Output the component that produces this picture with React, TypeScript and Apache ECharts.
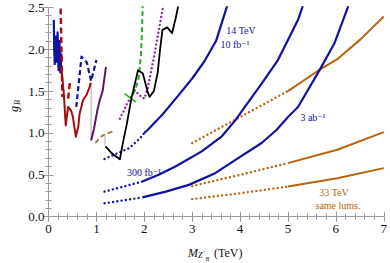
import React, { useEffect, useRef } from 'react';
import * as echarts from 'echarts';

// ---- data (TeV, g_B) ----
const xTickValues = [0, 1, 2, 3, 4, 5, 6, 7];
const yTickValues = [0, 0.5, 1.0, 1.5, 2.0, 2.5];

// 14 TeV projections
const b10Dotted = [[1.17, 0.69], [1.45, 0.76], [1.69, 0.82], [1.9, 0.93], [2.0, 1.0]];
const b10Solid = [[2.0, 1.0], [2.07, 1.035], [2.38, 1.22], [2.7, 1.44], [3.0, 1.65], [3.25, 1.85], [3.5, 2.1], [3.72, 2.5], [3.75, 2.56]];
const b300Dotted = [[1.17, 0.3], [1.5, 0.35], [1.96, 0.42]];
const b300Solid = [[1.96, 0.42], [2.3, 0.5], [2.65, 0.6], [3.2, 0.78], [3.62, 0.96], [3.9, 1.15], [4.1, 1.31], [4.45, 1.59], [4.79, 1.87], [5.0, 2.11], [5.21, 2.35], [5.3, 2.5], [5.33, 2.56]];
const b3abDotted = [[1.17, 0.16], [1.5, 0.19], [1.96, 0.23]];
const b3abSolid = [[1.96, 0.23], [2.45, 0.3], [2.93, 0.38], [3.48, 0.52], [3.96, 0.7], [4.45, 0.88], [4.76, 1.035], [5.0, 1.19], [5.21, 1.31], [5.66, 1.75], [5.97, 2.07], [6.25, 2.5], [6.28, 2.56]];

// 33 TeV projections
const o1Dotted = [[3.0, 0.88], [4.0, 1.19], [5.0, 1.5]];
const o1Solid = [[5.0, 1.5], [5.62, 1.74], [6.03, 1.88], [6.52, 2.12], [7.0, 2.39]];
const o2Dotted = [[3.0, 0.366], [4.0, 0.5], [5.0, 0.64]];
const o2Solid = [[5.0, 0.64], [6.03, 0.8], [7.0, 1.01]];
const o3Dotted = [[3.0, 0.21], [4.0, 0.28], [5.0, 0.36]];
const o3Solid = [[5.0, 0.36], [6.03, 0.46], [7.0, 0.58]];

// existing limits
const blueJagged = [[0.11, 2.35], [0.12, 2.0], [0.13, 1.82], [0.15, 2.15], [0.17, 1.85], [0.19, 2.2], [0.21, 1.75], [0.23, 2.1], [0.25, 1.72], [0.27, 1.95]];
const redDashedA = [[0.25, 2.6], [0.27, 2.0], [0.29, 1.43]];
const redDashedB = [[0.41, 1.41], [0.45, 1.62]];
const redSolid = [[0.27, 1.77], [0.32, 1.47], [0.36, 1.09], [0.41, 1.31], [0.47, 1.27], [0.51, 1.19], [0.57, 0.955], [0.62, 1.07], [0.65, 1.23], [0.72, 1.39], [0.79, 1.45], [0.86, 1.55], [0.88, 1.6]];
const blueDashed = [[0.58, 1.31], [0.69, 1.91], [0.8, 1.84], [0.89, 1.62], [1.0, 1.87]];
const grayLinkA = [[0.89, 1.6], [0.89, 0.91]];
const grayLinkB = [[1.18, 0.96], [1.18, 0.85]];
const purpleSolid = [[0.89, 0.91], [0.95, 1.05], [1.02, 1.27], [1.07, 1.39], [1.13, 1.5], [1.2, 1.79]];
const brownDashed = [[0.98, 0.88], [1.08, 0.95], [1.2, 0.99], [1.36, 1.02]];
const blackSolid = [[1.19, 0.84], [1.3, 0.77], [1.36, 0.74], [1.49, 0.685], [1.56, 0.9], [1.63, 1.09], [1.73, 1.41], [1.87, 1.75], [1.97, 1.71], [2.07, 1.49], [2.11, 1.43], [2.2, 1.5], [2.28, 1.72], [2.33, 2.0], [2.38, 2.23], [2.48, 2.26], [2.58, 2.19], [2.66, 2.38], [2.72, 2.55]];
const greenDashed = [[1.97, 2.55], [1.95, 2.2], [1.93, 1.93], [1.88, 1.65], [1.81, 1.51], [1.72, 1.42]];
const greenBar = [[1.59, 1.47], [1.82, 1.37]];
const purpleDotted = [[1.49, 1.17], [1.66, 1.37], [1.8, 1.51], [1.9, 1.45], [2.0, 1.41], [2.07, 1.53], [2.14, 1.73], [2.21, 1.93], [2.38, 2.47], [2.4, 2.55]];

const BLUE = '#1212A2';
const ORANGE = '#B8640F';
const RED = '#A80C0C';
const PURPLE = '#5C1466';
const MAGENTA = '#8E2A9E';
const GREEN = '#1EB41E';
const BROWN = '#A87A4E';
const FRAME = '#9a9a9a';
const SERIF = '"Liberation Serif", "DejaVu Serif", serif';

const DOT = [0.01, 4.3];
const DASH = [6, 3.5];

function line(data: number[][], color: string, width: number, type: any = 'solid', cap: any = 'butt') {
  return {
    type: 'line',
    data,
    symbol: 'none',
    silent: true,
    clip: true,
    xAxisIndex: 0,
    yAxisIndex: 0,
    lineStyle: { color, width, type, cap, join: 'round' },
  };
}

function axisCommon(show: boolean) {
  return {
    axisLine: { show: true, lineStyle: { color: FRAME, width: 1 } },
    axisTick: { show: true, inside: true, length: 5, lineStyle: { color: FRAME } },
    minorTick: { show: true, splitNumber: 5, length: 3, lineStyle: { color: FRAME } },
    splitLine: { show: false },
    axisLabel: {
      show,
      color: '#111',
      fontFamily: SERIF,
      fontSize: 13,
    },
  };
}

function txt(x: number, y: number, text: string, size: number, fill: string, align = 'center', style = 'normal') {
  return {
    type: 'text',
    x,
    y,
    silent: true,
    style: {
      text,
      fill,
      fontFamily: SERIF,
      fontSize: size,
      fontStyle: style,
      align,
      verticalAlign: 'middle',
      textAlign: align,
      textVerticalAlign: 'middle',
    },
  };
}

export default function App() {
  const ref = useRef<HTMLDivElement>(null);
  useEffect(() => {
    const chart = echarts.init(ref.current!, null, { renderer: 'svg' });
    const option: any = {
      animation: false,
      grid: { left: 48.5, right: 3.5, top: 7.3, bottom: 46.3, containLabel: false },
      xAxis: [
        {
          type: 'value', min: xTickValues[0], max: xTickValues[xTickValues.length - 1], interval: 1,
          position: 'bottom', ...axisCommon(true),
          axisLabel: { ...axisCommon(true).axisLabel, margin: 5, formatter: (v: number) => String(v) },
        },
        { type: 'value', min: 0, max: 7, interval: 1, position: 'top', ...axisCommon(false) },
      ],
      yAxis: [
        {
          type: 'value', min: yTickValues[0], max: yTickValues[yTickValues.length - 1], interval: 0.5,
          position: 'left', ...axisCommon(true),
          axisLabel: { ...axisCommon(true).axisLabel, margin: 4, formatter: (v: number) => v.toFixed(1) },
        },
        { type: 'value', min: 0, max: 2.5, interval: 0.5, position: 'right', ...axisCommon(false) },
      ],
      series: [
        line(o1Dotted, ORANGE, 2.4, DOT, 'round'),
        line(o1Solid, ORANGE, 2),
        line(o2Dotted, ORANGE, 2.4, DOT, 'round'),
        line(o2Solid, ORANGE, 2),
        line(o3Dotted, ORANGE, 2.4, DOT, 'round'),
        line(o3Solid, ORANGE, 2),
        line(b10Dotted, BLUE, 2.4, DOT, 'round'),
        line(b10Solid, BLUE, 2.2),
        line(b300Dotted, BLUE, 2.4, DOT, 'round'),
        line(b300Solid, BLUE, 2.2),
        line(b3abDotted, BLUE, 2.4, DOT, 'round'),
        line(b3abSolid, BLUE, 2.2),
        line(grayLinkA, '#999', 0.8),
        line(grayLinkB, '#999', 0.8),
        line(blueJagged, BLUE, 2.2),
        line(redDashedA, RED, 2.4, DASH),
        line(redDashedB, RED, 2.4, DASH),
        line(redSolid, RED, 2),
        line(blueDashed, BLUE, 2.2, [5, 3]),
        line(purpleSolid, PURPLE, 2),
        line(brownDashed, BROWN, 2, [5, 3]),
        line(purpleDotted, MAGENTA, 2.4, [0.01, 4], 'round'),
        line(greenDashed, GREEN, 2, [5, 3]),
        line(greenBar, GREEN, 1.6),
        line(blackSolid, '#000', 1.8),
      ],
      graphic: [
        txt(241, 30, '14 TeV', 10, BLUE),
        txt(235, 44, '10 fb\u207B\u00B9', 10, BLUE),
        txt(313, 117, '3 ab\u207B\u00B9', 10, BLUE),
        txt(144, 172, '300 fb\u207B\u00B9', 10, BLUE),
        txt(334, 192, '33 TeV', 10, ORANGE),
        txt(338, 205, 'same lums.', 10, ORANGE),
        // x axis title
        txt(188, 252.5, 'M', 12, '#111', 'left', 'italic'),
        txt(198, 255.5, 'Z', 8, '#111', 'left', 'italic'),
        txt(203.5, 253, '\u2032', 7, '#111', 'left'),
        txt(205.5, 259, 'B', 6, '#111', 'left', 'italic'),
        txt(214, 252.5, '(TeV)', 12, '#111', 'left'),
        // y axis title
        {
          type: 'group',
          x: 15,
          y: 106,
          rotation: Math.PI / 2,
          children: [
            txt(-3, -1, 'g', 12, '#111', 'center', 'italic'),
            txt(3.5, 2, 'B', 8, '#111', 'center', 'italic'),
          ],
        },
      ],
    };
    chart.setOption(option);
    return () => chart.dispose();
  }, []);
  return <div ref={ref} style={{ position: 'absolute', left: 0, top: 0, width: 390, height: 263 }} />;
}
